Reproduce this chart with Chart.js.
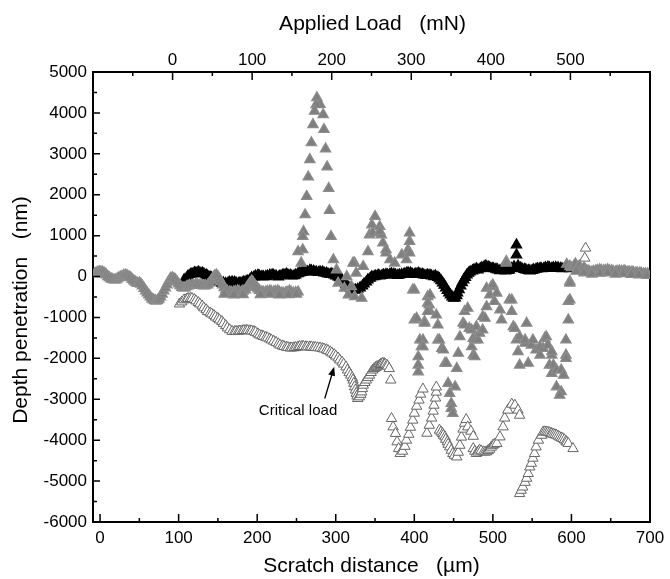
<!DOCTYPE html>
<html>
<head>
<meta charset="utf-8">
<script src="https://cdn.jsdelivr.net/npm/chart.js@4.4.1/dist/chart.umd.min.js"></script>
<style>
html, body { margin: 0; padding: 0; background: #fff; }
#wrap { width: 670px; height: 579px; }
</style>
</head>
<body>
<div id="wrap"><canvas id="scratchChart" width="670" height="579"></canvas></div>
<script>
// axis ranges / tick labels
const distanceRange = [-9, 700];     // scratch distance, µm (bottom)
const loadRange = [-100, 600];       // applied load, mN (top)
const depthRange = [-6000, 5000];    // depth penetration, nm
const distanceTicks = [0, 100, 200, 300, 400, 500, 600, 700];
const loadTicks = [-100, 0, 100, 200, 300, 400, 500, 600];
const loadLabels = [0, 100, 200, 300, 400, 500];
const depthTicks = [-6000, -5000, -4000, -3000, -2000, -1000, 0, 1000, 2000, 3000, 4000, 5000];

// [distance µm, depth nm]
// grey filled triangles: wavy start, lower band, flat end
const grayBand = [
  [-7,65],[-5,90],[-3,105],[-1,120],[1,115],[3,110],[5,90],[7,60],[8,40],[10,0],
  [12,-30],[14,-55],[16,-70],[18,-85],[20,-80],[22,-55],[24,-30],[26,-10],[28,5],[30,25],
  [32,30],[33,30],[35,15],[37,-5],[39,-30],[41,-70],[43,-105],[45,-135],[47,-155],[48,-170],
  [50,-155],[52,-185],[54,-230],[56,-290],[58,-350],[60,-400],[62,-450],[64,-500],[66,-545],[68,-570],
  [70,-585],[71,-600],[73,-585],[75,-550],[77,-500],[79,-430],[81,-350],[83,-280],[85,-205],[87,-130],
  [89,-70],[90,-40],[92,-30],[94,-50],[96,-80],[98,-130],[100,-180],[102,-225],[104,-265],[106,-280],
  [108,-275],[110,-250],[112,-230],[114,-215],[117,-205],[119,-200],[122,-190],[124,-195],[127,-205],[129,-215],
  [132,-230],[134,-220],[137,-205],[139,-160],[141,-105],[143,-50],[145,-5],[146,20],[148,40],[150,0],
  [152,-55],[154,-130],[156,-205],[158,-270],[160,-325],[162,-355],[165,-375],[167,-380],[170,-375],[172,-365],
  [175,-350],[177,-360],[180,-375],[182,-355],[185,-325],[187,-265],[189,-205],[191,-150],[193,-105],[195,-150],
  [197,-205],[199,-255],[201,-300],[203,-340],[206,-375],[208,-380],[211,-375],[213,-360],[216,-350],[218,-365],
  [221,-375],[223,-360],[226,-350],[228,-375],[231,-400],[233,-405],[236,-400],[238,-380],[241,-350],[243,-375],
  [246,-400],[249,-390],[252,-375],
  [158,-430],[170,-450],[182,-440],[204,-445],[216,-430],[228,-450],[240,-440],[250,-430],
  [594,300],[598,250],[600,215],[603,250],[605,310],[608,230],[610,260],[613,180],[616,215],[618,170],
  [621,140],[623,120],[626,115],[628,130],[631,140],[633,150],[636,165],[638,150],[641,140],[643,150],
  [646,165],[648,150],[651,140],[653,130],[656,115],[658,130],[661,140],[664,130],[667,140],[669,125],
  [672,115],[674,110],[677,115],[679,100],[682,90],[684,90],[687,90],[689,80],[692,65],[694,70],[697,65],
  [606,130],[616,90],[626,60],[636,80],[646,90],[656,60],[666,70],[676,50],[686,40],[696,30]
];
// grey filled triangles: spike and scattered cloud
const grayScatter = [
  [276,4370],[280,4205],[275,4200],[273,4040],[284,3960],[271,3715],[285,3595],[269,3270],[287,3120],[267,2860],
  [289,2680],[265,2435],[291,2155],[263,1960],[292,1615],[261,1510],[259,1100],[294,980],[258,980],[258,655],
  [256,330],[252,610],
  [297,410],[301,165],[303,-160],[311,-285],[316,-450],[324,-490],[333,-530],[324,330],[314,0],[320,-245],[326,85],
  [350,1470],[346,1265],[356,1225],[343,1020],[358,1020],[341,610],[347,1065],[356,1105],[360,820],[364,575],
  [364,655],[369,410],[375,330],[335,245],[322,330],[384,530],[392,655],[390,410],[394,575],[394,860],[394,1065],
  [398,-325],[400,-325],[417,-490],[419,-695],[420,-450],[417,-650],[420,-855],[428,-940],[417,-855],[400,-1060],
  [403,-1020],[413,-1100],[413,-1140],[430,-1185],[411,-1550],[407,-1550],[409,-1715],[411,-1715],[405,-1960],[405,-2165],
  [405,-2330],[430,-1550],[432,-1550],[435,-1755],[437,-1795],[439,-2120],[441,-2120],[454,-2245],[456,-1875],[458,-1470],
  [462,-1140],[464,-855],[464,-1185],[468,-775],[470,-1265],[473,-1715],[473,-1305],[475,-1510],[475,-1920],[477,-1960],
  [477,-1550],[479,-1225],[481,-1550],[483,-1385],[487,-1305],[487,-980],[490,-1020],[492,-735],[492,-285],[496,-450],
  [498,-245],[500,-205],[502,-610],[505,-405],[509,-815],[511,-1060],[521,-570],[524,-570],[524,-855],[526,-1225],
  [528,-1265],[530,-1550],[532,-1835],[534,-1470],[534,-2165],[541,-1630],[541,-1550],[543,-1140],[545,-2120],[549,-1675],
  [551,-1550],[555,-1795],[560,-1920],[560,-1715],[564,-1755],[566,-1510],[568,-1470],[570,-1675],[572,-2165],[575,-1920],
  [575,-1835],[575,-2365],[577,-2165],[581,-2285],[587,-2285],[590,-2410],[581,-2695],[587,-2815],[585,-2900],[593,-1920],
  [593,-2000],[593,-1550],[596,-1060],[596,-610],[598,-570],[598,-120],[598,-160],
  [443,-2610],[445,-2855],[447,-3100],[447,-3225],[449,-3345],[452,-2695],
  [517,370],[517,330]
];
// black filled triangles
const blackBand = [
  [107,-80],[110,-40],[112,15],[115,50],[117,65],[120,95],[122,90],[125,110],[127,90],[130,85],
  [132,65],[135,40],[137,15],[140,-10],[142,-30],[145,-55],[147,-80],[150,-110],[152,-130],[155,-160],
  [157,-155],[160,-170],[163,-155],[165,-140],[168,-130],[171,-140],[173,-155],[176,-170],[178,-155],[181,-150],
  [183,-130],[186,-120],[188,-105],[191,-70],[193,-30],[196,-10],[198,15],[201,30],[203,15],[206,0],
  [208,-5],[211,0],[213,15],[216,35],[219,40],[221,30],[224,15],[227,-10],[229,15],[232,30],
  [234,40],[237,60],[239,40],[242,30],[244,15],[247,20],[249,40],[252,70],[254,90],[257,110],
  [259,115],[262,130],[264,115],[267,150],[269,140],[272,130],[275,115],[278,100],[280,115],[283,110],
  [285,90],[288,80],[290,65],[293,55],[295,65],[298,40],[300,15],[303,-10],[305,-30],[308,-80],
  [310,-130],[313,-190],[315,-230],[318,-280],[320,-300],[323,-330],[325,-325],[328,-310],[331,-275],[334,-230],
  [336,-180],[339,-130],[341,-80],[344,-40],[346,-5],[349,0],[351,15],[354,30],[356,15],[359,25],
  [361,40],[364,50],[366,40],[369,55],[371,65],[374,55],[376,40],[379,25],[381,40],[384,50],
  [387,65],[390,80],[392,90],[395,85],[397,65],[400,50],[402,65],[405,80],[407,65],[410,55],
  [412,40],[415,25],[417,40],[420,30],[422,15],[425,0],[427,15],[430,-20],[432,-55],[434,-100],
  [436,-155],[438,-210],[440,-275],[442,-340],[444,-400],[446,-450],[448,-495],[450,-530],[452,-520],[454,-470],
  [455,-400],[457,-320],[459,-230],[461,-150],[463,-80],[465,-20],[467,40],[469,80],[471,115],[474,140],
  [476,165],[479,190],[481,165],[484,190],[486,215],[489,240],[491,260],[494,235],[496,215],[499,200],
  [501,190],[504,180],[506,165],[509,145],[511,165],[514,160],[516,140],[519,150],[521,165],[524,200],
  [527,240],[530,530],[530,775],[532,260],[535,210],[537,190],[540,175],[542,165],[545,150],[547,140],
  [550,150],[552,165],[555,180],[557,190],[560,200],[562,190],[565,200],[567,215],[570,230],[572,215],
  [575,200],[577,215],[580,220],[583,215],[586,200],[588,190],[591,200],[593,215],[596,210],[598,190]
];
// open triangles
const openTrace = [
  [101,-670],[104,-620],[107,-570],[110,-550],[112,-535],[115,-530],[117,-535],[120,-560],[122,-595],[125,-635],
  [127,-670],[130,-720],[132,-765],[135,-810],[137,-855],[140,-890],[142,-915],[145,-950],[147,-990],[150,-1025],
  [152,-1060],[155,-1100],[157,-1145],[160,-1200],[162,-1255],[165,-1300],[168,-1340],[171,-1345],[173,-1340],[176,-1335],
  [178,-1330],[181,-1325],[183,-1320],[186,-1315],[188,-1320],[191,-1325],[193,-1330],[196,-1345],[198,-1365],[201,-1400],
  [203,-1430],[206,-1450],[208,-1465],[211,-1485],[213,-1500],[216,-1525],[218,-1550],[221,-1580],[224,-1610],[227,-1645],
  [229,-1675],[232,-1695],[234,-1710],[237,-1725],[239,-1735],[242,-1745],[244,-1745],[247,-1740],[249,-1735],[252,-1720],
  [254,-1710],[257,-1705],[259,-1710],[262,-1715],[264,-1720],[267,-1720],[269,-1720],[272,-1730],[274,-1735],[277,-1740],
  [280,-1745],[283,-1760],[285,-1770],[288,-1790],[290,-1810],[293,-1840],[295,-1870],[298,-1905],[300,-1945],[303,-1990],
  [305,-2040],[308,-2090],[310,-2140],[313,-2210],[315,-2285],[317,-2350],[319,-2410],[321,-2470],[322,-2530],[323,-2610],
  [324,-2695],[325,-2775],[326,-2855],[327,-2920],[328,-2980],
  [330,-2940],[332,-2880],[333,-2820],[334,-2740],[335,-2655],[337,-2590],[339,-2530],[341,-2470],[343,-2410],[345,-2345],
  [347,-2285],[349,-2250],[351,-2220],[352,-2205],[354,-2190],[356,-2170],[357,-2150],[358,-2135],[360,-2120],[362,-2130],
  [363,-2140],[365,-2165],[366,-2190],[368,-2250],[370,-2530],
  [371,-3470],[373,-3675],[376,-3835],[378,-4040],[380,-4205],[382,-4325],[385,-4270],[388,-4150],[390,-4000],[393,-3855],
  [395,-3685],[398,-3510],[400,-3340],[403,-3170],[406,-3020],[408,-2875],[411,-2750],
  [416,-3830],[419,-3635],[422,-3460],[424,-3290],[425,-3145],[427,-2970],[428,-2825],[428,-2700],
  [432,-3755],[434,-3800],[436,-3840],[437,-3880],[439,-3920],[440,-3980],[442,-4040],[443,-4100],[445,-4165],[447,-4245],
  [449,-4325],[451,-4370],[454,-4410],
  [456,-4295],[458,-4125],[460,-3925],[462,-3730],[464,-3585],[466,-3495],[468,-3675],[472,-3780],[475,-3905],
  [475,-4205],[477,-4270],[479,-4325],[481,-4290],[483,-4245],[485,-4260],[488,-4285],[490,-4290],[492,-4285],[494,-4255],
  [496,-4220],[498,-4170],[500,-4125],[502,-4100],[505,-4080],[509,-3920],[513,-3675],[515,-3460],[519,-3265],[524,-3120],
  [528,-3145],[532,-3265],[534,-3390],
  [534,-5305],[536,-5225],[538,-5145],[541,-5030],[543,-4930],[545,-4815],[547,-4655],[549,-4565],[551,-4440],[553,-4325],
  [555,-4165],[558,-4000],[562,-3880],[564,-3800],[566,-3795],[568,-3800],[570,-3805],[572,-3815],[574,-3830],[575,-3845],
  [577,-3855],[579,-3865],[581,-3880],[583,-3900],[585,-3925],[587,-3945],[589,-3960],[591,-3990],[593,-4025],[594,-4050],
  [596,-4080],[602,-4205],
  [618,695],[617,450]
];

// "Critical load" note (data units)
const criticalArrow = { from: [286, -2980], to: [298, -2205] };
const criticalText = { text: 'Critical load', at: [252, -3290] };

const FONT = '"Liberation Sans", Arial, Helvetica, sans-serif';
const toXY = pts => pts.map(([x, y]) => ({ x, y }));
const asTicks = vals => vals.map(value => ({ value }));

// inward ticks, axis titles and the arrow note
const framePlugin = {
  id: 'frame',
  afterDraw(chart) {
    const { ctx, chartArea: a, scales } = chart;
    ctx.save();
    ctx.strokeStyle = '#000';
    ctx.lineWidth = 1.5;
    ctx.beginPath();
    for (let v = 0; v <= distanceRange[1]; v += 50) {
      const px = scales.x.getPixelForValue(v);
      const len = v % 100 === 0 ? 8 : 4;
      ctx.moveTo(px, a.bottom); ctx.lineTo(px, a.bottom - len);
    }
    for (let v = loadRange[0] + 50; v < loadRange[1]; v += 50) {
      const px = scales.x2.getPixelForValue(v);
      const len = v % 100 === 0 ? 8 : 4;
      ctx.moveTo(px, a.top); ctx.lineTo(px, a.top + len);
    }
    for (let v = depthRange[0] + 500; v < depthRange[1]; v += 500) {
      const py = scales.y.getPixelForValue(v);
      const len = v % 1000 === 0 ? 7 : 4;
      ctx.moveTo(a.left, py); ctx.lineTo(a.left + len, py);
    }
    ctx.stroke();

    // axis titles
    ctx.fillStyle = '#000';
    ctx.font = '21px ' + FONT;
    ctx.textAlign = 'center';
    ctx.textBaseline = 'middle';
    const cx = (a.left + a.right) / 2;
    ctx.fillText('Applied Load   (mN)', cx + 1, 24);
    ctx.fillText('Scratch distance   (\u00b5m)', cx, 566);
    ctx.save();
    ctx.translate(21, 310);
    ctx.rotate(-Math.PI / 2);
    ctx.fillText('Depth penetration   (nm)', 0, 0);
    ctx.restore();

    // critical load arrow
    const x0 = scales.x.getPixelForValue(criticalArrow.from[0]);
    const y0 = scales.y.getPixelForValue(criticalArrow.from[1]);
    const x1 = scales.x.getPixelForValue(criticalArrow.to[0]);
    const y1 = scales.y.getPixelForValue(criticalArrow.to[1]);
    const ang = Math.atan2(y1 - y0, x1 - x0);
    ctx.lineWidth = 1.3;
    ctx.beginPath();
    ctx.moveTo(x0, y0);
    ctx.lineTo(x1 - 6 * Math.cos(ang), y1 - 6 * Math.sin(ang));
    ctx.stroke();
    ctx.beginPath();
    ctx.moveTo(x1, y1);
    ctx.lineTo(x1 - 9 * Math.cos(ang) + 3.5 * Math.sin(ang), y1 - 9 * Math.sin(ang) - 3.5 * Math.cos(ang));
    ctx.lineTo(x1 - 9 * Math.cos(ang) - 3.5 * Math.sin(ang), y1 - 9 * Math.sin(ang) + 3.5 * Math.cos(ang));
    ctx.closePath();
    ctx.fill();

    ctx.font = '15px ' + FONT;
    ctx.fillText(criticalText.text,
      scales.x.getPixelForValue(criticalText.at[0]),
      scales.y.getPixelForValue(criticalText.at[1]));
    ctx.restore();
  }
};

const tickFont = { family: FONT, size: 17 };
const noGrid = { display: false, drawTicks: false };
const marker = { showLine: false, pointStyle: 'triangle', pointRadius: 6, pointHoverRadius: 6 };

new Chart(document.getElementById('scratchChart').getContext('2d'), {
  type: 'scatter',
  data: {
    datasets: [
      { label: 'grey', data: toXY(grayBand.concat(grayScatter)), backgroundColor: '#7f7f7f', borderColor: '#8c8c8c', borderWidth: 1.2, ...marker },
      { label: 'black', data: toXY(blackBand), backgroundColor: '#000', borderColor: '#000', borderWidth: 1.2, ...marker },
      { label: 'open', data: toXY(openTrace), backgroundColor: '#fff', borderColor: '#666', borderWidth: 1, ...marker }
    ]
  },
  options: {
    responsive: false,
    animation: false,
    devicePixelRatio: 1,
    layout: { padding: { left: 0, right: 20, top: 0, bottom: 0 } },
    plugins: { legend: { display: false }, tooltip: { enabled: false } },
    scales: {
      x: {
        type: 'linear', position: 'bottom', min: distanceRange[0], max: distanceRange[1],
        grid: noGrid, border: { color: '#000', width: 2 },
        afterBuildTicks(s) { s.ticks = asTicks(distanceTicks); },
        ticks: { autoSkip: false, maxRotation: 0, padding: 6, color: '#000', font: tickFont, callback: v => String(v) },
        afterFit(s) { s.height = 57; s.paddingLeft = 0; s.paddingRight = 0; }
      },
      x2: {
        type: 'linear', position: 'top', min: loadRange[0], max: loadRange[1],
        grid: noGrid, border: { color: '#000', width: 2 },
        afterBuildTicks(s) { s.ticks = asTicks(loadTicks); },
        ticks: { autoSkip: false, maxRotation: 0, padding: 1, color: '#000', font: tickFont,
          callback: v => loadLabels.includes(v) ? String(v) : '' },
        afterFit(s) { s.height = 72; s.paddingLeft = 0; s.paddingRight = 0; }
      },
      y: {
        type: 'linear', position: 'left', min: depthRange[0], max: depthRange[1],
        grid: noGrid, border: { color: '#000', width: 2 },
        afterBuildTicks(s) { s.ticks = asTicks(depthTicks); },
        ticks: { autoSkip: false, padding: 6, color: '#000', font: tickFont, callback: v => String(v) },
        afterFit(s) { s.width = 93; s.paddingTop = 0; s.paddingBottom = 0; }
      },
      yR: {
        type: 'linear', position: 'right', min: depthRange[0], max: depthRange[1],
        grid: noGrid, border: { color: '#000', width: 2 },
        ticks: { display: false },
        afterFit(s) { s.width = 0; s.paddingTop = 0; s.paddingBottom = 0; }
      }
    }
  },
  plugins: [framePlugin]
});
</script>
</body>
</html>
